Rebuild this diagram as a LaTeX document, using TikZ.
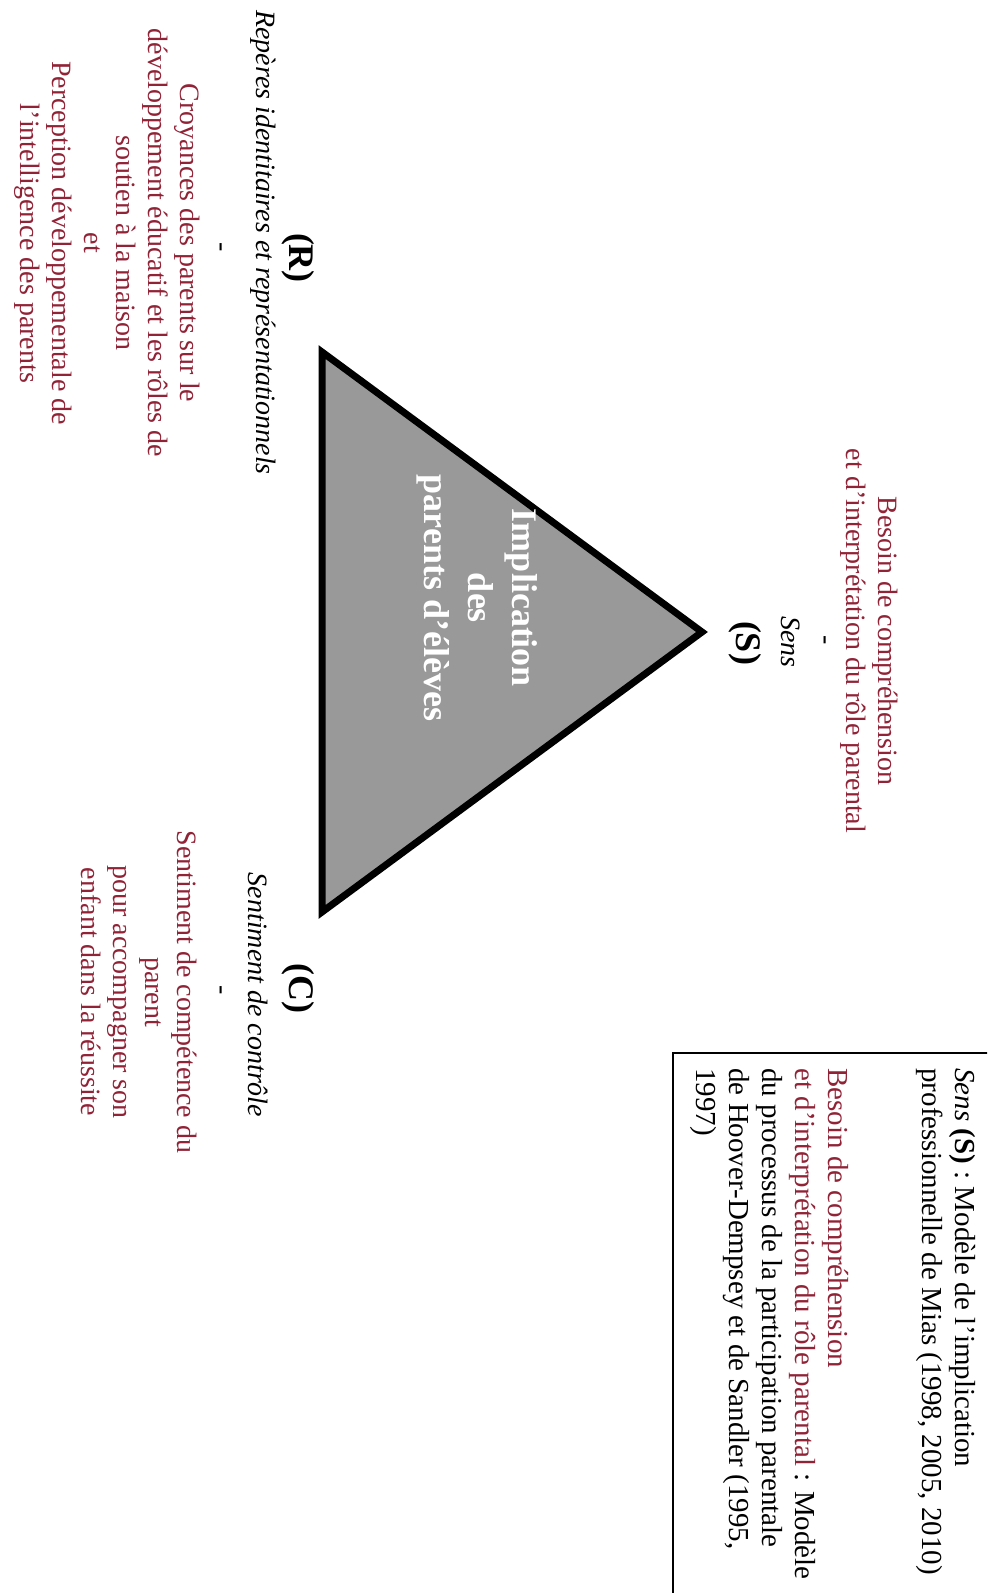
\documentclass[tikz,border=0pt]{standalone}
\usepackage{fontspec}
\setmainfont{Liberation Serif}
\definecolor{darkred}{RGB}{145,35,55}
\definecolor{trigray}{RGB}{153,153,153}

\begin{document}
\begin{tikzpicture}[x=0.5pt, y=-0.5pt,
  every node/.style={rotate=-90, inner sep=0pt},
  letter/.style={font=\fontsize{18}{21}\selectfont\bfseries},
  role/.style={font=\fontsize{14}{16}\selectfont\itshape},
  tiret/.style={font=\fontsize{14}{16}\selectfont},
  redtxt/.style={text=darkred, align=center, font=\fontsize{14}{16}\selectfont},
  boxtxt/.style={anchor=west, align=left, font=\fontsize{14.5}{16.5}\selectfont}]
  \useasboundingbox (0,0) rectangle (987,1593);
  \fill[white] (0,0) rectangle (987,1593);
  \clip (0,0) rectangle (987,1593);

  % triangle
  \coordinate (rtop) at (322,352);
  \coordinate (sapex) at (702,632);
  \coordinate (cbot) at (322,912);
  \draw[line width=3.5pt, fill=trigray] (rtop) -- (sapex) -- (cbot) -- cycle;
  \node[text=white, align=center, font=\fontsize{18}{22}\selectfont\bfseries]
    (centre) at (477,598) {Implication\\des\\parents d’élèves};

  % (S)
  \node[letter] (S) at (745,643) {(S)};
  \node[role] (Srole) at (791,642) {Sens};
  \node[tiret] (Sdash) at (822,640) {-};
  \node[redtxt] (Stxt) at (869,641) {Besoin de compréhension\\et d’interprétation du rôle parental};

  % (R)
  \node[letter] (R) at (298,258) {(R)};
  \node[role, anchor=west] (Rrole) at (263,10) {Repères identitaires et représentationnels};
  \node[tiret] (Rdash) at (218,247) {-};
  \node[redtxt] (Rtxt) at (107,243) {Croyances des parents sur le\\développement éducatif et les rôles de\\soutien à la maison\\et\\Perception développementale de\\l’intelligence des parents};

  % (C)
  \node[letter] (C) at (298,988) {(C)};
  \node[role] (Crole) at (258,995) {Sentiment de contrôle};
  \node[tiret] (Cdash) at (218,990) {-};
  \node[redtxt] (Ctxt) at (139,992) {Sentiment de compétence du\\parent\\pour accompagner son\\enfant dans la réussite};

  % legend box
  \draw[line width=1.2pt] (673,1053) rectangle (1100,1700);
  \node[boxtxt] (leg1) at (946,1068) {{\itshape Sens} {\bfseries (S)} : Modèle de l’implication\\professionnelle de Mias (1998, 2005, 2010)};
  \node[boxtxt] (leg2) at (769,1068) {{\color{darkred}Besoin de compréhension}\\{\color{darkred}et d’interprétation du rôle parental} : Modèle\\du processus de la participation parentale\\de Hoover-Dempsey et de Sandler (1995,\\1997)};
\end{tikzpicture}
\end{document}
